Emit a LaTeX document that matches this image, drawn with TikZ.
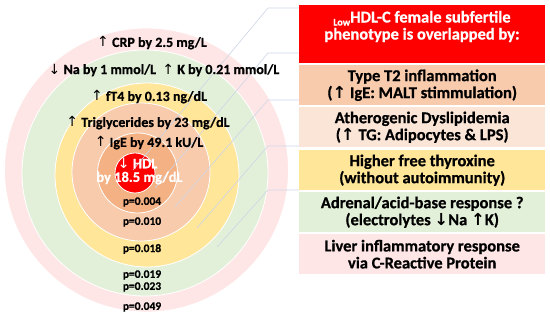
\documentclass[tikz,border=0pt]{standalone}
\usepackage{fontspec}
\setmainfont{Carlito}[BoldFeatures={FakeBold=0.7}]
\newfontfamily\arr{DejaVu Sans}
\newcommand\myup{{\arr\fontseries{m}\selectfont ↑}}
\newcommand\mydn{{\arr\fontseries{m}\selectfont ↓}}
\newcommand\myupb{{\arr\bfseries ↑}}
\newcommand\mydnb{{\arr\bfseries ↓}}
\definecolor{cPink}{HTML}{FFE6E6}
\definecolor{cGreen}{HTML}{E2F0D9}
\definecolor{cYellow}{HTML}{FFE699}
\definecolor{cSalmon}{HTML}{F8CBAD}
\definecolor{cOrange}{HTML}{F4B183}
\definecolor{cRed}{HTML}{FF0000}
\definecolor{cPeach}{HTML}{FBE5D6}
\definecolor{lineC}{HTML}{CDD5E6}
\begin{document}
\begin{tikzpicture}[x=1pt,y=-1pt,
  ring/.style={circle, draw=white, line width=0.8pt, inner sep=0pt},
  lbl/.style={font=\fontsize{14}{15}\selectfont\bfseries, inner sep=0pt},
  pval/.style={font=\fontsize{11.5}{12}\selectfont\bfseries, inner sep=0pt},
  box/.style={minimum width=246pt, anchor=north west, inner sep=0pt, align=center,
              font=\fontsize{16.5}{17}\selectfont\bfseries},
  conn/.style={draw=lineC, line width=0.6pt}]
\useasboundingbox (0,0) rectangle (550,320);
% rings
\node[ring, fill=cPink,   minimum size=284pt] (rPink)   at (146.5,170) {};
\node[ring, fill=cGreen,  minimum size=246pt] (rGreen)  at (145,173) {};
\node[ring, fill=cYellow, minimum size=184pt] (rYellow) at (147,175) {};
\node[ring, fill=cSalmon, minimum size=138pt] (rSalmon) at (141,172) {};
\node[ring, fill=cOrange, minimum size=80pt]  (rOrange) at (137.5,173) {};
\node[ring, fill=cRed,    minimum size=40pt]  (rRed)    at (135,173) {};
% boxes
\node[box, fill=cRed, minimum height=58pt] (b1) at (299,5) {};
\node[box, fill=cSalmon, minimum height=40pt] (b2) at (299,65) {Type T2 inflammation\\(\myupb\ IgE: MALT stimmulation)};
\node[box, fill=cPeach, minimum height=40pt] (b3) at (299,107) {Atherogenic Dyslipidemia\\(\myupb\ TG: Adipocytes \& LPS)};
\node[box, fill=cYellow, minimum height=40pt] (b4) at (299,150) {Higher free thyroxine\\(without autoimmunity)};
\node[box, fill=cGreen, minimum height=40pt] (b5) at (299,192) {Adrenal/acid-base response ?\\(electrolytes \mydnb Na \myupb K)};
\node[box, fill=cPink, minimum height=40pt] (b6) at (299,234) {Liver inflammatory response\\via C-Reactive Protein};
\node[align=center, text=white, font=\fontsize{16.5}{17}\selectfont\bfseries, inner sep=0pt] (t1) at (422,26.5)
  {\raisebox{-3pt}{\fontsize{10}{10}\selectfont Low}HDL-C female subfertile\\phenotype is overlapped by:};
% connectors
\coordinate (c1a) at (299,8);   \coordinate (c1b) at (268,8);   \coordinate (c1c) at (133,170);
\coordinate (c2a) at (299,53);  \coordinate (c2b) at (268,53);  \coordinate (c2c) at (155,188);
\coordinate (c3a) at (299,100); \coordinate (c3b) at (268,100); \coordinate (c3c) at (175,207);
\coordinate (c4a) at (299,146); \coordinate (c4b) at (268,146); \coordinate (c4c) at (197,228);
\coordinate (c5a) at (299,190); \coordinate (c5b) at (268,190); \coordinate (c5c) at (217,247);
\foreach \i in {1,...,5} {\draw[conn] (c\i a) -- (c\i b) -- (c\i c);}
% labels
\node[lbl] (lCRP) at (152,43) {\myup\ CRP by 2.5 mg/L};
\node[lbl] (lNaK) at (164,70) {\mydn\ Na by 1 mmol/L \ \myup\ K by 0.21 mmol/L};
\node[lbl] (lfT4) at (149,97) {\myup\ fT4 by 0.13 ng/dL};
\node[lbl] (lTG)  at (148,123) {\myup\ Triglycerides by 23 mg/dL};
\node[lbl] (lIgE) at (149,143) {\myup\ IgE by 49.1 kU/L};
\node[lbl, text=white, font=\fontsize{14.5}{15}\selectfont\bfseries] (lHDL) at (137.5,163) {\mydn\ HDL};
\node[lbl, text=white, font=\fontsize{14.5}{15}\selectfont\bfseries] (lHDL2) at (139.5,178) {by 18.5 mg/dL};
\node[pval] (p1) at (142,202) {p=0.004};
\node[pval] (p2) at (142,222) {p=0.010};
\node[pval] (p3) at (142,249) {p=0.018};
\node[pval] (p4) at (142,275) {p=0.019};
\node[pval] (p5) at (142,287) {p=0.023};
\node[pval] (p6) at (142,307) {p=0.049};
\end{tikzpicture}
\end{document}
